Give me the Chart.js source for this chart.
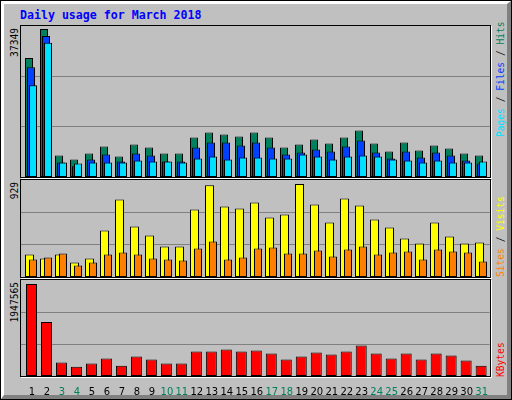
<!DOCTYPE html>
<html lang="en">
<head>
<meta charset="UTF-8">
<title>Daily usage for March 2018</title>
<script src="https://cdn.jsdelivr.net/npm/chart.js@4.4.1/dist/chart.umd.min.js"></script>
<style>
  html, body { margin: 0; padding: 0; background: #c0c0c0; }
  #wrap { position: relative; width: 512px; height: 400px; overflow: hidden; background: #c0c0c0; }
  .abs { position: absolute; }
  #outline { left: 0; top: 0; width: 512px; height: 400px; box-sizing: border-box; border: 1px solid #000; }
  #bevel { left: 1px; top: 1px; width: 510px; height: 398px; box-sizing: border-box;
           border-style: solid; border-width: 3px 4px 4px 3px;
           border-color: #fff #808080 #808080 #fff; }
  .panel { box-sizing: border-box; border: 1px solid #000; box-shadow: 1px 1px 0 #fff; left: 20px; width: 471px; }
  #title { left: 20px; top: 9.5px; font: bold 11.6px "DejaVu Sans Mono"; line-height: 11.6px;
           color: #0000ff; white-space: pre; }
  .rot { width: 200px; transform-origin: 0 0; transform: rotate(-90deg);
         font: 9.6px "DejaVu Sans Mono"; line-height: 10px; white-space: pre; }
  canvas { position: absolute; }
</style>
</head>
<body>
<div id="wrap">
  <div id="outline" class="abs"></div>
  <div id="bevel" class="abs"></div>
  <div class="abs panel" style="top:25px;height:153px"></div>
  <div class="abs panel" style="top:179px;height:99px"></div>
  <div class="abs panel" style="top:279px;height:98px"></div>
  <div id="title" class="abs">Daily usage for March 2018</div>
  <canvas id="top" width="469" height="151" style="left:21px;top:26px"></canvas>
  <canvas id="mid" width="469" height="97" style="left:21px;top:180px"></canvas>
  <canvas id="bot" width="469" height="116" style="left:21px;top:280px"></canvas>
</div>

<script>
  const days = [1, 2, 3, 4, 5, 6, 7, 8, 9, 10, 11, 12, 13, 14, 15, 16,
                17, 18, 19, 20, 21, 22, 23, 24, 25, 26, 27, 28, 29, 30, 31];
  const weekendDays = [3, 4, 10, 11, 17, 18, 24, 25, 31];

  const hits   = [30010, 37349, 5410, 4390, 5920, 7690, 5160, 8200, 7440, 5910, 5920, 9970, 11240, 10730, 10220, 11240,
                  9970, 7430, 8200, 9460, 8450, 9970, 11750, 8450, 6420, 8700, 6680, 7940, 7180, 5920, 5410];
  const files  = [27720, 35580, 3630, 2700, 4390, 5660, 3890, 5920, 5410, 3890, 3890, 7440, 8700, 8700, 7940, 8700,
                  7440, 5660, 6170, 6930, 6420, 7690, 9210, 6170, 4650, 6420, 4900, 6170, 5410, 4140, 3380];
  const pages  = [23150, 33890, 3630, 3380, 3630, 3630, 3630, 4140, 3890, 3890, 3630, 4650, 5160, 4390, 4900, 4900,
                  4650, 4650, 5660, 5160, 4390, 5160, 5410, 5160, 4390, 4140, 3630, 4140, 3630, 3630, 3890];
  const visits = [224, 184, 224, 144, 184, 465, 775, 505, 414, 304, 304, 675, 916, 705, 685, 745,
                  595, 625, 929, 725, 545, 785, 715, 575, 495, 384, 334, 545, 404, 334, 344];
  const sites  = [174, 194, 234, 114, 144, 224, 244, 224, 184, 174, 164, 284, 354, 174, 194, 284,
                  294, 234, 234, 264, 204, 274, 304, 224, 244, 254, 174, 274, 254, 244, 154];
  const kbytes = [1947565, 1140200, 283300, 198300, 262000, 368300, 219500, 410800, 347000, 262000, 262000,
                  517000, 517000, 559500, 517000, 538200, 474500, 347000, 410800, 495700, 453200, 517000,
                  644500, 474500, 368300, 474500, 347000, 474500, 432000, 325800, 219500];

  const DAY_PX = 15;      // pixels per day
  const FIRST_TICK = 11;  // pixel of day 1 label inside the plot

  function panel(id, series, headroom, withLabels) {
    const cv = document.getElementById(id);
    const span = cv.width / DAY_PX;
    const base = days[0] - FIRST_TICK / DAY_PX;
    const peak = Math.max(...series.flatMap(s => s.values));

    const scales = {
      x: {
        type: 'linear', display: withLabels, min: base, max: base + span, offset: false,
        grid: { display: false, offset: false }, border: { display: false },
        afterBuildTicks: s => { s.ticks = days.map(d => ({ value: d })); },
        afterFit: s => { s.height = withLabels ? 20 : 0; },
        ticks: {
          autoSkip: false, maxRotation: 0, minRotation: 0, padding: 2,
          font: { family: 'DejaVu Sans', size: 10 },
          color: c => weekendDays.includes(c.tick.value) ? '#00805c' : '#000000',
          callback: v => String(v)
        }
      },
      y: {
        type: 'linear', min: 0, max: peak * headroom,
        grid: { color: '#808080', lineWidth: 1, drawTicks: false },
        border: { display: false },
        ticks: { display: false },
        afterBuildTicks: s => { s.ticks = [1, 2].map(k => ({ value: s.max * k / 3 })); },
        afterFit: s => { s.width = 0; }
      }
    };
    series.forEach((s, i) => {
      const m = base - s.shift / DAY_PX;
      scales['x' + i] = { type: 'linear', display: false, min: m, max: m + span, offset: false, grid: { offset: false } };
    });

    new Chart(cv, {
      type: 'bar',
      data: {
        datasets: series.map((s, i) => ({
          data: days.map((d, k) => ({ x: d, y: s.values[k] })),
          xAxisID: 'x' + i,
          yAxisID: 'y',
          backgroundColor: s.color,
          borderColor: '#000000',
          borderWidth: 1,
          borderSkipped: false,
          inflateAmount: 0,
          barThickness: s.width,
          grouped: false,
          order: series.length - i
        }))
      },
      options: {
        responsive: false,
        animation: false,
        events: [],
        layout: { padding: 0 },
        plugins: { legend: { display: false }, tooltip: { enabled: false } },
        scales: scales
      }
    });
    return peak;
  }

  const topMax = panel('top', [
    { values: hits,  color: '#00805c', width: 8, shift: -3 },
    { values: files, color: '#0040ff', width: 8, shift: -1 },
    { values: pages, color: '#00e0ff', width: 8, shift: 1 }
  ], 1.02, false);

  const midMax = panel('mid', [
    { values: visits, color: '#ffff00', width: 9, shift: -2.5 },
    { values: sites,  color: '#ff8000', width: 8, shift: 1 }
  ], 1.043, false);

  const botMax = panel('bot', [
    { values: kbytes, color: '#ff0000', width: 11, shift: -0.5 }
  ], 1.043, true);

  // rotated side labels (real text)
  const wrap = document.getElementById('wrap');
  function rotLabel(parts, left, y, anchorEnd) {
    const el = document.createElement('div');
    el.className = 'abs rot';
    el.style.left = left + 'px';
    el.style.top = (anchorEnd ? y + 200 : y) + 'px';
    el.style.textAlign = anchorEnd ? 'right' : 'left';
    parts.forEach(([t, c]) => {
      const sp = document.createElement('span');
      sp.textContent = t;
      sp.style.color = c;
      el.appendChild(sp);
    });
    wrap.appendChild(el);
  }

  rotLabel([[String(topMax), '#000']], 9.7, 28, true);
  rotLabel([[String(midMax), '#000']], 9.7, 182, true);
  rotLabel([[String(botMax), '#000']], 9.7, 282, true);

  rotLabel([['Pages', '#00e0ff'], [' / ', '#000'], ['Files', '#0040ff'], [' / ', '#000'], ['Hits', '#00805c']], 495.6, 137, false);
  rotLabel([['Sites', '#ff8000'], [' / ', '#000'], ['Visits', '#ffff00']], 495.6, 277, false);
  rotLabel([['KBytes', '#ff0000']], 495.6, 377, false);
</script>
</body>
</html>
